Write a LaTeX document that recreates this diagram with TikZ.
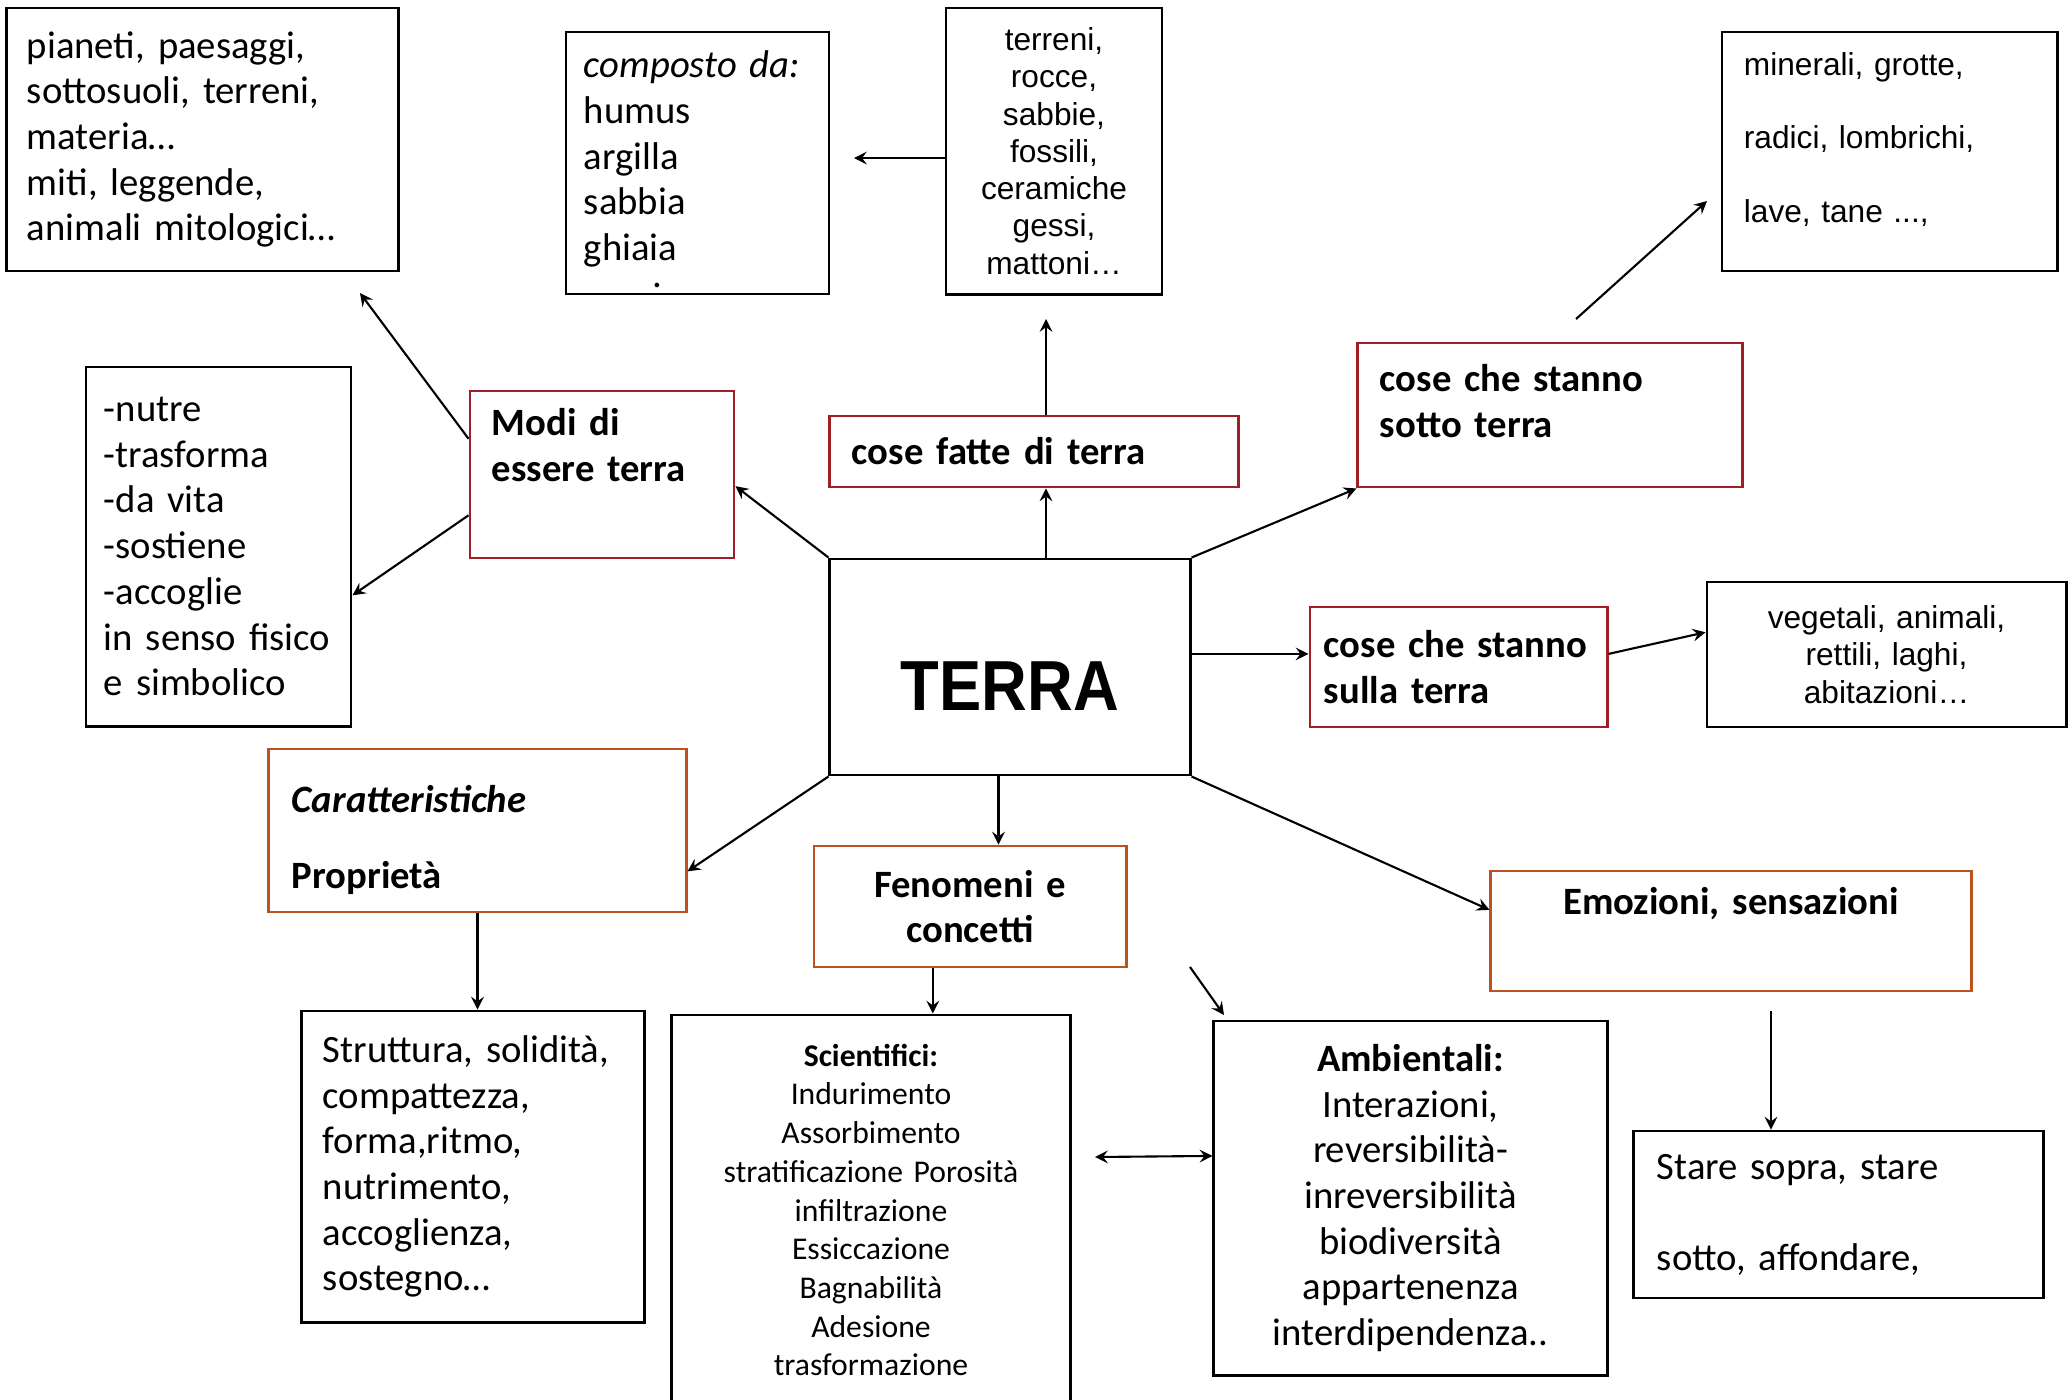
\documentclass[tikz,border=0pt]{standalone}
\usepackage{fontspec}
\setmainfont{Carlito}
\newfontfamily\arialfont{Liberation Sans}
\definecolor{darkred}{RGB}{158,32,38}
\definecolor{rust}{RGB}{188,82,32}
\tikzset{
	boxstyle/.style={rectangle,draw=black,line width=0.8pt,inner sep=0pt,font=\fontsize{11}{13}\selectfont},
	arialstyle/.style={boxstyle,font=\arialfont\fontsize{9}{10.6}\selectfont,align=center},
	redstyle/.style={boxstyle,draw=darkred,font=\fontsize{11}{13}\selectfont\bfseries,align=left},
	brownstyle/.style={boxstyle,draw=rust,font=\fontsize{11}{13}\selectfont\bfseries},
	arrowstyle/.style={-stealth,line width=0.6pt}
}
\begin{document}
\begin{tikzpicture}[x=0.01cm,y=-0.01cm]
	\useasboundingbox (0,0) rectangle (2069,1399);
	\clip (0,0) rectangle (2069,1399);
	\node[boxstyle,align=left,minimum width=3.91cm,minimum height=2.63cm,text width=3.51cm] (pianeti) at (202.5,139.5) {pianeti, paesaggi,\\sottosuoli, terreni,\\materia…\\miti, leggende,\\animali mitologici…};
	\node[boxstyle,align=left,minimum width=2.63cm,minimum height=2.62cm,text width=2.27cm] (composto) at (697.5,163) {\textit{composto da:}\\humus\\argilla\\sabbia\\ghiaia\\[-8.9pt]\raisebox{-3.4pt}[0pt][0pt]{\hspace*{19.5pt}.}};
	\node[arialstyle,minimum width=2.16cm,minimum height=2.86cm,text width=2.0cm] (terreni) at (1054,151) {terreni,\\rocce,\\sabbie,\\fossili,\\ceramiche\\gessi,\\mattoni…};
	\node[arialstyle,font=\arialfont\fontsize{9}{21}\selectfont,align=left,minimum width=3.35cm,minimum height=2.39cm,text width=2.91cm] (minerali) at (1889.5,151.5) {minerali, grotte,\\radici, lombrichi,\\lave, tane ...,\\[-13pt]\mbox{}};
	\node[boxstyle,align=left,minimum width=2.65cm,minimum height=3.59cm,text width=2.29cm] (nutre) at (218.5,546.5) {-nutre\\-trasforma\\-da vita\\-sostiene\\-accoglie\\in senso fisico\\e simbolico};
	\node[redstyle,minimum width=2.64cm,minimum height=1.67cm,text width=2.20cm] (modi) at (602,474.5) {Modi di\\essere terra\\ \strut};
	\node[redstyle,minimum width=4.08cm,minimum height=0.71cm,text width=3.64cm] (fatte) at (1034,451.5) {cose fatte di terra};
	\node[redstyle,minimum width=3.84cm,minimum height=1.44cm,text width=3.40cm] (sotto) at (1550,415) {cose che stanno\\sotto terra\\[-5pt]\mbox{}};
	\node[boxstyle,minimum width=3.60cm,minimum height=2.16cm,font=\arialfont\bfseries\fontsize{18}{20}\selectfont] (terra) at (1010,667) {\raisebox{-12.5pt}[0pt][0pt]{\scalebox{1}[1.12]{TERRA}}};
	\node[redstyle,minimum width=2.97cm,minimum height=1.20cm,text width=2.69cm] (sulla) at (1458.5,667) {cose che stanno\\sulla terra};
	\node[arialstyle,minimum width=3.59cm,minimum height=1.45cm,text width=3.3cm] (vegetali) at (1886.5,654.5) {vegetali, animali,\\rettili, laghi,\\abitazioni…};
	\node[brownstyle,align=left,minimum width=4.17cm,minimum height=1.63cm,text width=3.71cm] (car) at (477.5,830.5) {\strut\\[-9pt]\textit{Caratteristiche}\\[8.8pt]Proprietà};
	\node[brownstyle,align=center,minimum width=3.12cm,minimum height=1.21cm,text width=2.8cm] (fenomeni) at (970,906.5) {Fenomeni e\\concetti};
	\node[brownstyle,align=center,minimum width=4.80cm,minimum height=1.20cm,text width=4.4cm] (emozioni) at (1731,931) {Emozioni, sensazioni\\ \strut};
	\node[boxstyle,align=left,minimum width=3.42cm,minimum height=3.11cm,text width=3.00cm] (struttura) at (473,1166.5) {Struttura, solidità,\\compattezza,\\forma,ritmo,\\nutrimento,\\accoglienza,\\sostegno…};
	\node[boxstyle,align=center,font=\fontsize{9}{11}\selectfont,minimum width=3.98cm,minimum height=3.90cm,text width=3.7cm] (scientifici) at (871,1210) {\textbf{Scientifici:}\\Indurimento\\Assorbimento\\stratificazione Porosità\\infiltrazione\\Essiccazione\\Bagnabilità\\Adesione\\trasformazione};
	\node[boxstyle,align=center,minimum width=3.93cm,minimum height=3.54cm,text width=3.7cm] (ambientali) at (1410.5,1198) {\textbf{Ambientali:}\\Interazioni,\\reversibilità-\\inreversibilità\\biodiversità\\appartenenza\\interdipendenza..};
	\node[boxstyle,align=left,minimum width=4.09cm,minimum height=1.67cm,text width=3.63cm] (stare) at (1838.5,1214.5) {Stare sopra, stare\\[12.9pt]sotto, affondare,};
	\coordinate (toP) at (360,293);
	\coordinate (toC) at (854,158);
	\coordinate (upT) at (1046,319);
	\coordinate (mA) at (1576,319);
	\coordinate (mB) at (1707,201);
	\coordinate (aA) at (1190,967);
	\coordinate (aB) at (1224,1015);
	\coordinate (sD) at (1095,1157);
	\coordinate (eS) at (1771,1011);
	\draw[arrowstyle] (modi.165)--(toP);
	\draw[arrowstyle] (modi.197)--(nutre.340);
	\draw[arrowstyle] (terra.north west)--(modi.355);
	\draw[arrowstyle] (terra.north -| upT)--(fatte.south -| upT);
	\draw[arrowstyle] (fatte.north -| upT)--(upT);
	\draw[arrowstyle] (toC -| terreni.west)--(toC);
	\draw[arrowstyle] (terra.north east)--(sotto.south west);
	\draw[arrowstyle] (mA)--(mB);
	\draw[arrowstyle] (terra.east |- sulla.175)--(sulla.175);
	\draw[arrowstyle] (sulla.5)--(vegetali.173);
	\draw[arrowstyle] (terra.south west)--(car.349);
	\draw[arrowstyle] (terra.264)--(terra.264 |- fenomeni.north);
	\draw[arrowstyle] (terra.south east)--(emozioni.175);
	\draw[arrowstyle] (car.south)--(car.south |- struttura.north);
	\draw[arrowstyle] (fenomeni.239)--(fenomeni.239 |- scientifici.north);
	\draw[arrowstyle] (aA)--(aB);
	\draw[arrowstyle,stealth-stealth] (sD)--(ambientali.168);
	\draw[arrowstyle] (eS)--(eS |- stare.north);
\end{tikzpicture}
\end{document}
